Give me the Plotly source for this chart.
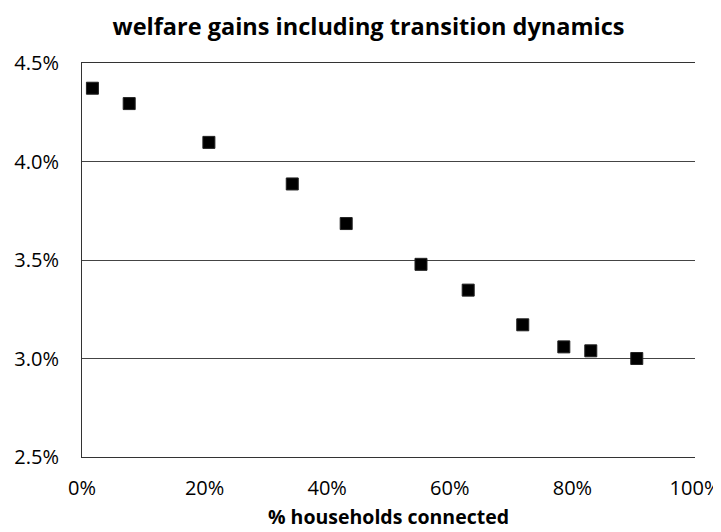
"""
Welfare gains scatter
"""

import plotly.graph_objects as go

# share of households connected (fraction)
households_connected = [0.017, 0.077, 0.207, 0.343, 0.431, 0.553, 0.630, 0.719, 0.786, 0.830, 0.905]
# welfare gains including transition dynamics (fraction)
welfare_gains = [0.04372, 0.04294, 0.04097, 0.03886, 0.03685, 0.03478, 0.03347, 0.03171, 0.03059, 0.03039, 0.03000]

y_ticks = [0.025, 0.030, 0.035, 0.040, 0.045]
x_ticks = [0.0, 0.2, 0.4, 0.6, 0.8, 1.0]

FONT = "Open Sans"

fig = go.Figure(go.Scatter(
    x=households_connected,
    y=welfare_gains,
    mode="markers",
    marker=dict(symbol="square", size=12, color="black",
                line=dict(color="#222", width=1)),
    showlegend=False
))

# the page body adds ~8px offset, margins compensate for it
fig.update_layout(
    width=721,
    height=532,
    margin=dict(l=74, r=34, t=55, b=83),
    plot_bgcolor="white",
    paper_bgcolor="white",
    font=dict(family=FONT, color="black", size=20),
    title=dict(
        text="<b>welfare gains including transition dynamics</b>",
        x=0.5, xanchor="center", y=0.964, yanchor="middle",
        font=dict(family=FONT, size=23.5, color="black")
    )
)

fig.update_xaxes(
    range=[0, 1],
    tickvals=x_ticks,
    tickformat=".0%",
    showgrid=False,
    zeroline=False,
    showline=True, linecolor="#333", linewidth=1, mirror=True,
    ticks="",
    automargin=False,
    ticklabelstandoff=13,
    title=dict(text="<b>% households connected</b>",
               font=dict(family=FONT, size=19.5), standoff=10)
)

fig.update_yaxes(
    range=[0.025, 0.045],
    tickvals=y_ticks,
    tickformat=".1%",
    showgrid=True, gridcolor="#444", gridwidth=1,
    zeroline=False,
    showline=True, linecolor="#333", linewidth=1,
    ticks="",
    automargin=False,
    ticklabelstandoff=18
)

fig.write_html("out.html")
